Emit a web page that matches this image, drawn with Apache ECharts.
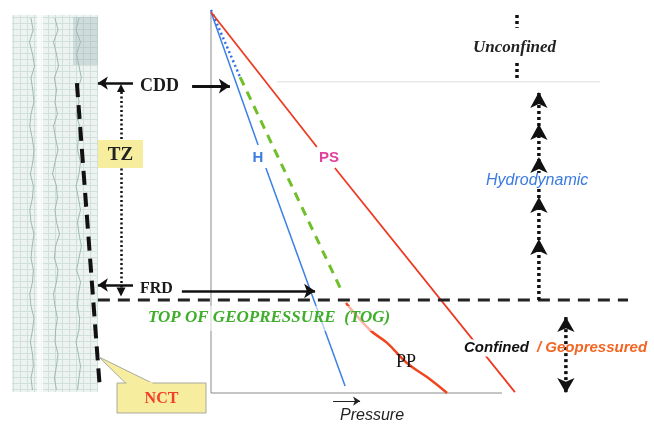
<!DOCTYPE html>
<html><head><meta charset="utf-8">
<script src="https://cdn.jsdelivr.net/npm/echarts@6/dist/echarts.min.js"></script>
<style>html,body{margin:0;padding:0;background:#fff}#c{width:654px;height:424px}</style>
</head><body><div id="c"></div>
<script>
// ---- Data (pressure units on x, depth units on y, depth increasing downward) ----
const pressureMax = 97, depthMax = 127;            // extent of the pressure-depth frame
const hydroUpper   = [[0,0],[15.7,44.3]];          // H line above label
const hydroLower   = [[18.3,52],[44.7,124.7]];     // H line below label
const hydroDotted  = [[0,-0.7],[9.7,21.7]];        // dotted blue start
const tzTrend      = [[9.7,21.7],[43.7,93.3]];     // green dashed trend through TZ
const psUpper      = [[0,0],[35.3,45]];            // PS above label
const psLower      = [[41.3,52],[101.3,126.7]];    // PS below label
const ppCurve      = [[45,97],[53,106],[58.7,110.3],[65.3,117],[72,121.7],[78.7,127]];
const nctLine      = [[-44.7,23.7],[-37,126]];
const cddDepth = 23.7, cddDepthR = 24.7, frdDepth = 91, frdDepthR = 93, togDepth = 96, grayDepth = 23.3;
const hydroChainP = 109.3, hydroChainBottom = 96;
const hydroArrowDepths = [26.7, 37.3, 48.3, 61.7, 75.7];
const confinedP = 118.3, confinedUp = 101.7, confinedDown = 127;
const unconfP = 102, unconfSegs = [[1,5.3],[17,22.7]];
const tzP = -30, tzTop = 25.3, tzBottom = 93.3;
// well-log traces (decorative)
const logDepths = [2,6,10,14,18,22,26,30,34,38,42,46,50,54,58,62,66,70,74,78,82,86,90,94,98,102,106,110,114,118,122,126];
const logTrace1 = [-60,-59.3,-60.5,-59.5,-58.8,-60,-59.4,-59,-60,-60.4,-59.6,-59,-59.4,-60.2,-59.2,-59.5,-60.4,-60,-59,-59.6,-60,-59.2,-59.5,-60.4,-60,-59,-59.5,-60.2,-59.5,-59.2,-60,-59.5];
const logTrace2 = [-52,-51,-52.5,-51.5,-50.8,-52.2,-51.5,-52,-51.2,-52.5,-51.8,-51,-52,-52.8,-51.5,-51.2,-52,-51.5,-50.5,-51.8,-52.2,-51,-51.5,-52.5,-52,-51.2,-51.8,-52,-51,-51.5,-52.2,-51.5];
const logTrace3 = [-44,-45,-43.5,-44.8,-44,-43.2,-44.5,-44,-45,-43.8,-44.2,-44.5,-43.5,-44,-45,-44.2,-43.5,-44.5,-44,-43.2,-44,-44.8,-43.5,-44.2,-44.5,-43.8,-44,-45,-44.2,-43.5,-44,-44.5];

// grid pattern for the log image
const pc = document.createElement('canvas'); pc.width = 7; pc.height = 6;
const g = pc.getContext('2d');
g.fillStyle = '#ecf3f1'; g.fillRect(0,0,7,6);
g.fillStyle = '#d2e0dc'; g.fillRect(0,5,7,1); g.fillRect(6,0,1,6);

const chart = echarts.init(document.getElementById('c'));
const SERIF = '"Liberation Serif", "Times New Roman", serif';
const SANS = '"Liberation Sans", Arial, sans-serif';
function seg(data, color, width, type, extra) {
  return Object.assign({type:'line', data, showSymbol:false, clip:false, silent:true,
    lineStyle:{color, width, type: type||'solid'}, z:3}, extra||{});
}
function arrow(coords, color, width, type, sym, size) {
  return {type:'lines', coordinateSystem:'cartesian2d', clip:false, silent:true, z:4,
    symbol: sym, symbolSize: size, lineStyle:{color, width, type: type||'solid', opacity:1},
    data:[{coords}]};
}
const trace = (arr) => arr.map((p,i)=>[p, logDepths[i]]);

const chainData = [[hydroChainP, hydroChainBottom]].concat(
  hydroArrowDepths.slice().reverse().map(d => ({value:[hydroChainP,d], symbol:'arrow', symbolSize:[13,16]})));

const hidden = {axisLine:{show:false}, axisTick:{show:false}, axisLabel:{show:false}, splitLine:{show:false}};
const option = {
  animation:false,
  // full-canvas grid; the pressure-depth frame sits at pressure 0..97, depth 0..127
  grid:{left:0, top:0, right:0, bottom:0, containLabel:false},
  xAxis:Object.assign({type:'value', min:-70.33, max:147.67}, hidden),
  yAxis:Object.assign({type:'value', min:-4, max:137.33, inverse:true}, hidden),
  series:[
    seg(trace(logTrace1), '#9dbab6', 1, 'solid', {z:1}),
    seg(trace(logTrace2), '#9dbab6', 1, 'solid', {z:1}),
    seg(trace(logTrace3), '#9dbab6', 1, 'solid', {z:1}),
    // frame axes
    seg([[0,0],[0,depthMax],[pressureMax,depthMax]], '#8a8a8a', 1),
    seg([[22,grayDepth],[129.7,grayDepth]], '#dddddd', 1),
    seg(hydroUpper, '#3b7fe6', 1.5),
    seg(hydroLower, '#3b7fe6', 1.5),
    seg(hydroDotted, '#2f6fe0', 2.5, [2,3]),
    seg(tzTrend, '#6fbf2a', 3, [9,7]),
    seg(psUpper, '#ee3a22', 1.8),
    seg(psLower, '#ee3a22', 1.8),
    seg(ppCurve, '#f0461e', 2.5, 'solid', {smooth:0.4}),
    seg([[-37.7,togDepth],[139,togDepth]], '#222', 3, [12,8]),
    seg(nctLine, '#111', 4, [14,8]),
    // unconfined dotted
    seg([[unconfP,unconfSegs[0][0]],[unconfP,unconfSegs[0][1]]], '#111', 3.5, [3,3]),
    seg([[unconfP,unconfSegs[1][0]],[unconfP,unconfSegs[1][1]]], '#111', 3.5, [3,3]),
    // hydrodynamic chain
    seg(chainData, '#111', 3.5, [3,3], {showSymbol:true, symbol:'none', itemStyle:{color:'#111'}}),
    // confined double arrow
    seg([{value:[confinedP,confinedUp], symbol:'arrow', symbolSize:[13,15]},
         {value:[confinedP,confinedDown], symbol:'arrow', symbolSize:[13,15], symbolRotate:180}],
        '#111', 3.5, [3,3], {showSymbol:true, symbol:'none', itemStyle:{color:'#111'}}),
    // arrows
    arrow([[-26,cddDepth],[-37.7,cddDepth]], '#111', 2.5, 'solid', ['none','arrow'], [9,10]),
    arrow([[-6.3,cddDepthR],[6.3,cddDepthR]], '#111', 3, 'solid', ['none','arrow'], [10,11]),
    arrow([[-26,frdDepth],[-37.7,frdDepth]], '#111', 2.5, 'solid', ['none','arrow'], [9,10]),
    arrow([[-9.7,frdDepthR],[34.7,frdDepthR]], '#111', 2.5, 'solid', ['none','arrow'], [10,11]),
    arrow([[tzP,tzBottom],[tzP,tzTop]], '#111', 2.5, [2,2.5], ['triangle','triangle'], [9,8]),
    arrow([[40.7,129.7],[49.7,129.7]], '#222', 1, 'solid', ['none','arrow'], [6,7])
  ],
  graphic:[
    {type:'rect', z:-1, shape:{x:12,y:15,width:86,height:377}, style:{fill:{image:pc, repeat:'repeat'}}},
    {type:'rect', z:-1, shape:{x:37,y:15,width:6,height:377}, style:{fill:'rgba(255,255,255,0.7)'}},
    {type:'rect', z:-1, shape:{x:73,y:17,width:25,height:48}, style:{fill:'rgba(110,140,140,0.22)'}},
    // TOG translucent band
    {type:'rect', z:50, shape:{x:142,y:306,width:262,height:25}, style:{fill:'rgba(255,255,255,0.6)'}},
    {type:'text', z:60, x:148, y:318, style:{text:'TOP OF GEOPRESSURE  (TOG)', font:'italic bold 17px '+SERIF, fill:'#3fae2a', verticalAlign:'middle'}},
    {type:'text', z:60, x:140, y:86, style:{text:'CDD', font:'bold 18px '+SERIF, fill:'#1a1a1a', verticalAlign:'middle'}},
    {type:'text', z:60, x:140, y:289, style:{text:'FRD', font:'bold 16px '+SERIF, fill:'#1a1a1a', verticalAlign:'middle'}},
    {type:'rect', z:55, shape:{x:98,y:140,width:45,height:28}, style:{fill:'#f6ee9e'}},
    {type:'text', z:60, x:120.5, y:155, style:{text:'TZ', font:'bold 19px '+SERIF, fill:'#222', align:'center', verticalAlign:'middle'}},
    {type:'polygon', z:55, shape:{points:[[99,357],[126,383.5],[153,383.5]]}, style:{fill:'#f6ee9e', stroke:'#a8a8a0', lineWidth:1}},
    {type:'rect', z:55, shape:{x:117,y:383,width:89,height:30}, style:{fill:'#f6ee9e', stroke:'#a8a8a0', lineWidth:1}},
    {type:'rect', z:56, shape:{x:126.5,y:382,width:26,height:2}, style:{fill:'#f6ee9e'}},
    {type:'text', z:60, x:161.5, y:399, style:{text:'NCT', font:'bold 16px '+SERIF, fill:'#f0402a', align:'center', verticalAlign:'middle'}},
    {type:'text', z:60, x:258, y:158, style:{text:'H', font:'bold 15px '+SANS, fill:'#3d7fe0', align:'center', verticalAlign:'middle'}},
    {type:'text', z:60, x:329, y:158, style:{text:'PS', font:'bold 15px '+SANS, fill:'#e2409c', align:'center', verticalAlign:'middle'}},
    {type:'text', z:60, x:406, y:362, style:{text:'PP', font:'18px '+SERIF, fill:'#111', align:'center', verticalAlign:'middle'}},
    {type:'text', z:60, x:340, y:416, style:{text:'Pressure', font:'italic 16px '+SANS, fill:'#222', verticalAlign:'middle'}},
    {type:'text', z:60, x:473, y:48, style:{text:'Unconfined', font:'italic bold 17px '+SERIF, fill:'#222', verticalAlign:'middle'}},
    {type:'text', z:60, x:485, y:181, style:{text:'Hydrodynamic', font:'italic 16px '+SANS, fill:'#3b7be0', verticalAlign:'middle', backgroundColor:'#fff', padding:[0,1]}},
    {type:'text', z:60, x:462, y:348, style:{text:'Confined', font:'italic bold 15px '+SANS, fill:'#111', verticalAlign:'middle', backgroundColor:'#fff', padding:[1,2]}},
    {type:'text', z:60, x:537, y:348, style:{text:'/ Geopressured', font:'italic bold 15px '+SANS, fill:'#f26522', verticalAlign:'middle'}}
  ]
};
chart.setOption(option);
</script></body></html>
